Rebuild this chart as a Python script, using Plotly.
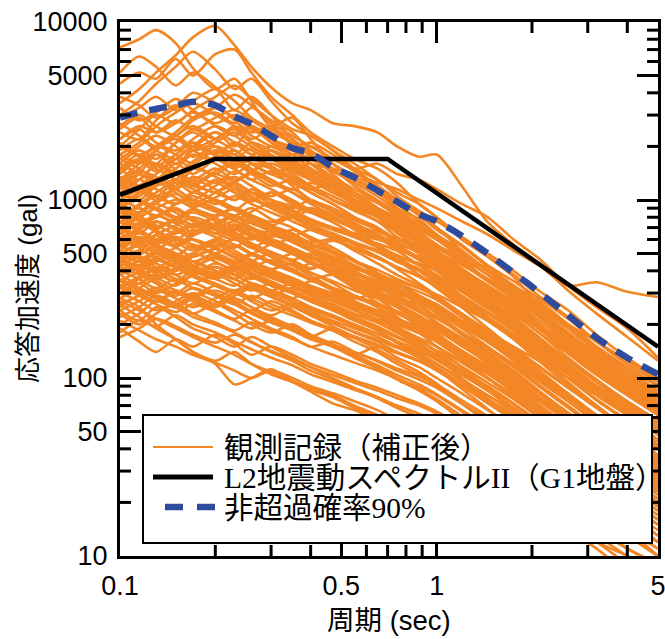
import math
import plotly.graph_objects as go

# ---------------- data ----------------
periods = [0.10, 0.115, 0.13, 0.15, 0.17, 0.20, 0.23, 0.26, 0.30, 0.35, 0.40, 0.47, 0.55,
           0.65, 0.75, 0.88, 1.0, 1.2, 1.45, 1.75, 2.1, 2.6, 3.2, 4.0, 5.0]

records_extreme = [
    [3500, 4200, 5200, 6500, 8200, 9500, 7400, 5600, 4300, 3500, 3200, 2700, 2600, 2400, 2000, 1750, 1800, 1200, 750, 560, 440, 310, 230, 170, 125],
    [7200, 8000, 9000, 7600, 5500, 4200, 4800, 3600, 2600, 2900, 2200, 1600, 1300, 1100, 900, 650, 520, 400, 330, 220, 170, 120, 85, 62, 45],
    [4500, 5200, 4800, 6200, 5000, 6600, 7000, 5200, 3800, 3000, 2400, 2000, 1700, 1500, 1250, 950, 800, 620, 480, 370, 260, 200, 140, 105, 80],
    [5200, 6400, 5600, 4400, 5200, 4300, 3200, 3800, 3000, 2200, 1800, 1400, 1100, 900, 700, 560, 430, 330, 260, 190, 140, 105, 75, 58, 42],
    [3000, 3600, 4500, 5600, 6800, 5400, 4200, 4800, 3600, 2700, 2300, 1900, 1500, 1200, 1000, 820, 700, 520, 400, 300, 230, 160, 125, 90, 70],
    [1500, 1800, 1600, 2100, 2500, 2200, 2600, 2300, 2000, 1900, 1600, 1500, 1400, 1250, 1150, 1000, 900, 760, 640, 520, 430, 330, 345, 305, 285],
    [1200, 1400, 1800, 1500, 2000, 2400, 2000, 2600, 2200, 1800, 2000, 1700, 1500, 1600, 1400, 1300, 1150, 950, 800, 600, 470, 330, 250, 190, 130],
]

records_high = [
    [2900, 3300, 3800, 3200, 3600, 4200, 3600, 2900, 2500, 2100, 1800, 1500, 1200, 1000, 850, 700, 600, 470, 350, 280, 200, 155, 110, 85, 62],
    [2400, 2200, 2800, 3400, 2900, 3300, 3900, 3400, 2700, 2300, 2000, 1700, 1500, 1150, 900, 780, 640, 520, 400, 330, 270, 200, 140, 115, 90],
    [3800, 3400, 2900, 3300, 4000, 3500, 2800, 2400, 2600, 2000, 1600, 1300, 1050, 900, 720, 560, 480, 360, 280, 210, 160, 115, 85, 62, 48],
    [2000, 2500, 3000, 2700, 3200, 3800, 4400, 3700, 3000, 2500, 2300, 1900, 1600, 1300, 1100, 950, 800, 600, 480, 380, 290, 220, 160, 120, 95],
    [2600, 3000, 2600, 2300, 2800, 3100, 2700, 3300, 2800, 2400, 1900, 1600, 1350, 1200, 1000, 820, 680, 550, 420, 330, 260, 195, 150, 115, 90],
    [1800, 2100, 2600, 3100, 3500, 3000, 2600, 2200, 2500, 2200, 1850, 1700, 1450, 1150, 950, 760, 620, 480, 380, 300, 240, 180, 135, 105, 82],
    [3300, 2800, 3100, 3700, 3200, 2700, 3000, 2600, 2100, 1800, 1500, 1250, 1000, 820, 700, 580, 480, 380, 300, 230, 180, 130, 98, 74, 58],
    [1500, 1700, 2000, 2400, 2900, 3300, 2900, 2500, 2200, 2000, 2100, 1800, 1500, 1300, 1050, 870, 760, 620, 500, 400, 310, 240, 175, 130, 100],
    [2200, 2600, 2400, 2800, 2500, 2900, 3200, 2800, 2400, 2100, 1750, 1450, 1300, 1150, 980, 850, 700, 560, 430, 350, 280, 215, 160, 125, 98],
    [2500, 2900, 2400, 2700, 3100, 2600, 2300, 2600, 2200, 1900, 1700, 1450, 1250, 1050, 880, 740, 640, 500, 400, 310, 240, 180, 135, 100, 78],
    [1800, 1600, 1900, 2300, 2000, 2400, 2100, 1800, 2000, 1700, 1450, 1250, 1100, 960, 820, 700, 600, 480, 380, 300, 235, 175, 130, 98, 75],
    [2200, 2500, 2100, 1900, 2200, 2600, 2300, 2000, 1750, 1500, 1600, 1350, 1150, 980, 840, 720, 620, 500, 400, 320, 250, 190, 145, 110, 85],
    [1300, 1600, 1900, 2200, 1900, 2100, 2400, 2100, 1800, 1550, 1350, 1150, 1000, 900, 780, 660, 560, 440, 350, 280, 220, 165, 125, 95, 72],
    [2700, 2300, 2000, 2300, 2600, 2200, 1900, 1700, 1900, 1650, 1400, 1200, 1000, 860, 720, 600, 510, 400, 315, 250, 195, 145, 108, 82, 63],
]

records_upper = [
    [1600, 1900, 1700, 2100, 2400, 2000, 1800, 2100, 1900, 1600, 1400, 1150, 950, 800, 650, 540, 460, 360, 280, 220, 170, 125, 95, 70, 55],
    [1300, 1500, 1800, 1600, 1900, 2200, 2500, 2100, 1800, 1500, 1300, 1200, 1000, 850, 720, 600, 520, 400, 320, 250, 190, 140, 105, 80, 62],
    [2100, 1800, 2000, 2300, 1900, 1700, 1900, 1600, 1400, 1250, 1100, 950, 800, 700, 560, 470, 400, 310, 250, 190, 150, 110, 80, 62, 48],
    [1000, 1200, 1400, 1700, 2000, 1800, 2100, 1900, 1700, 1800, 1500, 1300, 1100, 900, 760, 640, 560, 470, 380, 300, 250, 170, 140, 110, 80],
    [1700, 1500, 1300, 1500, 1800, 1600, 1400, 1600, 1500, 1300, 1200, 1000, 880, 760, 620, 520, 440, 350, 270, 210, 160, 120, 90, 68, 52],
    [1200, 1400, 1300, 1600, 1400, 1700, 1900, 1600, 1400, 1500, 1300, 1100, 1000, 880, 760, 650, 560, 450, 420, 320, 240, 200, 150, 110, 92],
    [900, 1100, 1300, 1200, 1500, 1700, 1500, 1700, 1500, 1300, 1150, 1250, 1050, 900, 800, 680, 600, 500, 400, 320, 250, 190, 140, 105, 82],
    [1400, 1700, 2000, 1800, 1600, 1900, 1700, 1500, 1300, 1100, 950, 820, 680, 560, 460, 380, 320, 250, 190, 145, 110, 80, 60, 45, 35],
    [1900, 2200, 1900, 1700, 2000, 1800, 1500, 1300, 1450, 1200, 1000, 850, 720, 620, 520, 430, 370, 290, 220, 170, 130, 95, 70, 52, 40],
    [1100, 1000, 1200, 1400, 1300, 1500, 1300, 1450, 1600, 1400, 1200, 1000, 900, 800, 680, 580, 500, 400, 320, 260, 200, 150, 115, 88, 68],
    [800, 950, 1100, 1300, 1500, 1400, 1600, 1400, 1200, 1300, 1100, 950, 800, 680, 580, 500, 420, 340, 270, 210, 165, 125, 95, 72, 56],
    [1500, 1300, 1600, 1400, 1200, 1400, 1250, 1100, 1000, 900, 1000, 860, 740, 640, 560, 470, 400, 330, 260, 200, 155, 115, 88, 66, 50],
    [1250, 1450, 1350, 1150, 1350, 1250, 1450, 1300, 1150, 1000, 880, 780, 700, 620, 540, 480, 420, 360, 300, 240, 190, 145, 110, 85, 66],
    [1000, 1150, 1050, 1250, 1100, 1300, 1150, 1000, 1100, 950, 850, 750, 640, 560, 480, 400, 340, 270, 210, 165, 125, 92, 70, 52, 40],
    [1600, 1400, 1250, 1400, 1550, 1350, 1200, 1050, 900, 800, 700, 640, 560, 480, 410, 340, 290, 230, 180, 140, 110, 80, 60, 46, 36],
    [700, 850, 1000, 1150, 1000, 1200, 1350, 1200, 1050, 1150, 1000, 900, 780, 700, 600, 540, 470, 380, 310, 250, 200, 150, 115, 88, 68],
    [1300, 1150, 1000, 1150, 1300, 1150, 1000, 1150, 1000, 880, 780, 700, 620, 540, 460, 400, 350, 280, 220, 175, 135, 100, 75, 57, 44],
    [950, 1100, 1250, 1100, 950, 1100, 1250, 1100, 950, 850, 900, 800, 700, 620, 540, 460, 400, 320, 260, 200, 155, 115, 86, 65, 50],
    [1100, 1300, 1550, 1400, 1650, 1900, 1700, 1950, 1700, 1450, 1300, 1150, 1000, 860, 740, 640, 560, 450, 360, 290, 230, 175, 135, 102, 80],
    [1700, 2000, 2300, 2000, 1750, 2000, 1800, 1600, 1400, 1550, 1350, 1150, 980, 840, 720, 610, 520, 410, 325, 255, 200, 150, 112, 85, 65],
    [2000, 1750, 1550, 1800, 2100, 1850, 2050, 1800, 1550, 1350, 1200, 1050, 920, 800, 690, 590, 510, 410, 330, 265, 210, 160, 122, 93, 72],
    [1450, 1650, 1450, 1700, 1500, 1750, 1550, 1750, 1500, 1300, 1150, 1000, 870, 760, 660, 570, 490, 390, 310, 245, 190, 145, 110, 84, 64],
    [900, 1050, 1200, 1400, 1250, 1450, 1650, 1450, 1300, 1150, 1250, 1100, 950, 830, 720, 620, 540, 440, 350, 280, 225, 172, 132, 100, 78],
    [1250, 1100, 1250, 1450, 1250, 1100, 1250, 1400, 1250, 1100, 980, 870, 770, 680, 600, 520, 450, 360, 290, 230, 180, 137, 104, 80, 62],
    [1050, 1200, 1050, 950, 1100, 1250, 1100, 980, 1100, 980, 870, 780, 690, 610, 540, 470, 410, 330, 265, 210, 165, 125, 95, 72, 56],
    [1350, 1200, 1050, 950, 1050, 950, 1050, 950, 850, 760, 680, 610, 540, 480, 420, 370, 325, 260, 210, 168, 132, 100, 76, 58, 45],
    [1200, 1100, 1200, 1300, 1200, 1100, 1000, 1100, 1000, 920, 850, 780, 720, 660, 610, 560, 510, 430, 360, 300, 250, 200, 160, 125, 98],
    [1500, 1700, 1500, 1300, 1150, 1000, 880, 770, 680, 600, 520, 440, 370, 310, 260, 215, 180, 140, 108, 82, 62, 46, 34, 25, 19],
]

records_middle = [
    [800, 900, 800, 950, 1000, 900, 820, 900, 780, 700, 620, 540, 460, 380, 320, 270, 230, 180, 140, 110, 85, 63, 48, 37, 29],
    [600, 700, 820, 750, 900, 1000, 880, 800, 700, 620, 560, 500, 430, 370, 310, 260, 220, 175, 138, 108, 84, 63, 48, 37, 29],
    [900, 800, 700, 780, 850, 760, 680, 750, 660, 580, 520, 460, 400, 340, 290, 240, 200, 155, 120, 92, 70, 52, 39, 30, 23],
    [500, 580, 680, 760, 700, 800, 900, 820, 720, 650, 580, 600, 520, 440, 380, 330, 280, 220, 175, 140, 110, 82, 62, 48, 37],
    [700, 650, 750, 700, 640, 720, 800, 700, 620, 680, 600, 520, 450, 390, 340, 290, 250, 200, 160, 125, 98, 74, 56, 43, 33],
    [1000, 900, 820, 900, 780, 700, 760, 680, 600, 530, 470, 420, 360, 300, 250, 210, 175, 138, 108, 83, 64, 48, 36, 27, 21],
    [550, 620, 580, 660, 720, 650, 600, 680, 640, 580, 520, 470, 420, 380, 330, 290, 260, 210, 170, 135, 105, 80, 60, 46, 36],
    [750, 850, 950, 850, 760, 680, 620, 700, 600, 520, 450, 390, 330, 280, 235, 195, 165, 130, 100, 78, 60, 45, 34, 26, 20],
    [450, 520, 600, 560, 640, 720, 660, 600, 680, 600, 540, 480, 420, 360, 310, 270, 235, 190, 150, 118, 92, 70, 53, 41, 32],
    [850, 760, 680, 600, 680, 620, 560, 500, 560, 500, 440, 390, 340, 300, 260, 225, 195, 160, 128, 100, 78, 58, 44, 34, 26],
    [620, 560, 640, 720, 800, 720, 640, 570, 510, 460, 500, 440, 390, 330, 280, 240, 205, 165, 130, 100, 78, 58, 44, 33, 26],
    [400, 460, 520, 600, 540, 600, 540, 620, 560, 500, 450, 400, 360, 320, 290, 250, 220, 180, 145, 115, 90, 68, 52, 40, 31],
    [680, 740, 660, 580, 520, 580, 520, 460, 410, 440, 390, 340, 290, 250, 215, 185, 160, 128, 100, 78, 60, 45, 34, 26, 20],
    [520, 600, 540, 480, 560, 500, 560, 500, 450, 400, 360, 380, 330, 290, 250, 215, 190, 155, 125, 98, 76, 57, 43, 33, 26],
    [350, 400, 460, 420, 480, 540, 600, 540, 480, 430, 390, 350, 310, 280, 250, 220, 195, 160, 130, 105, 84, 64, 50, 39, 31],
    [760, 680, 600, 540, 480, 530, 470, 420, 460, 410, 360, 310, 270, 230, 195, 165, 140, 110, 86, 66, 50, 37, 28, 21, 16],
    [480, 430, 500, 460, 420, 480, 440, 500, 450, 400, 360, 320, 290, 260, 230, 200, 175, 142, 115, 90, 70, 53, 40, 31, 24],
    [600, 540, 480, 540, 600, 540, 480, 430, 390, 350, 310, 280, 240, 210, 180, 155, 135, 108, 85, 66, 51, 38, 29, 22, 17],
    [420, 480, 440, 400, 450, 400, 360, 410, 370, 330, 300, 270, 240, 215, 190, 168, 150, 124, 100, 80, 63, 48, 37, 29, 22],
    [900, 1000, 900, 800, 720, 650, 700, 620, 560, 500, 440, 390, 340, 300, 270, 240, 215, 180, 148, 120, 96, 74, 57, 44, 34],
    [560, 500, 560, 620, 560, 500, 450, 500, 450, 400, 440, 400, 350, 310, 270, 235, 205, 168, 135, 106, 82, 62, 47, 36, 28],
    [380, 430, 390, 440, 400, 360, 400, 440, 400, 360, 320, 290, 260, 230, 205, 180, 160, 130, 105, 84, 66, 50, 38, 30, 23],
    [450, 400, 360, 400, 450, 400, 360, 320, 290, 320, 290, 260, 230, 205, 180, 160, 142, 116, 94, 76, 60, 46, 35, 27, 21],
    [320, 360, 410, 460, 410, 370, 410, 370, 330, 300, 270, 245, 220, 195, 172, 152, 135, 110, 90, 72, 57, 44, 34, 26, 20],
    [520, 470, 420, 380, 420, 470, 420, 380, 340, 305, 275, 250, 220, 240, 210, 185, 165, 135, 108, 86, 68, 52, 40, 31, 24],
    [650, 580, 520, 470, 420, 380, 420, 380, 340, 300, 270, 240, 215, 190, 168, 148, 132, 108, 88, 71, 56, 43, 33, 26, 20],
    [470, 520, 470, 420, 380, 340, 310, 340, 310, 280, 250, 225, 200, 178, 160, 142, 126, 104, 85, 68, 54, 41, 32, 25, 19],
    [800, 920, 1050, 950, 1100, 980, 880, 1000, 900, 800, 880, 780, 690, 610, 540, 470, 410, 330, 265, 210, 166, 126, 96, 74, 57],
    [1150, 1300, 1150, 1030, 920, 1030, 1150, 1030, 920, 820, 730, 650, 580, 520, 460, 410, 360, 290, 235, 188, 148, 112, 86, 66, 51],
    [950, 850, 960, 1080, 960, 860, 770, 860, 960, 860, 770, 690, 620, 550, 490, 430, 380, 305, 245, 196, 154, 117, 89, 68, 53],
    [700, 790, 900, 800, 900, 1000, 900, 800, 720, 800, 720, 640, 570, 510, 450, 400, 355, 285, 230, 183, 144, 109, 83, 64, 49],
    [1100, 980, 880, 790, 880, 790, 710, 790, 710, 640, 570, 510, 455, 405, 360, 320, 285, 230, 185, 148, 117, 89, 68, 52, 40],
    [650, 730, 820, 740, 660, 740, 820, 740, 670, 600, 540, 590, 530, 470, 420, 375, 335, 270, 218, 175, 138, 105, 80, 62, 48],
    [880, 790, 710, 790, 880, 790, 710, 640, 580, 520, 470, 420, 380, 340, 305, 275, 245, 198, 160, 128, 101, 77, 59, 45, 35],
    [580, 650, 580, 650, 730, 650, 730, 650, 590, 530, 480, 430, 390, 350, 315, 285, 255, 206, 166, 133, 105, 80, 61, 47, 36],
    [750, 670, 600, 670, 600, 540, 600, 540, 600, 540, 485, 435, 390, 350, 315, 282, 252, 203, 164, 131, 103, 79, 60, 46, 36],
    [500, 560, 630, 560, 630, 700, 630, 570, 510, 460, 415, 460, 415, 375, 340, 305, 275, 222, 180, 145, 115, 88, 68, 52, 41],
    [680, 610, 550, 490, 550, 490, 440, 490, 440, 395, 355, 320, 290, 262, 237, 214, 193, 157, 128, 103, 82, 63, 48, 37, 29],
    [430, 490, 550, 500, 450, 500, 560, 500, 450, 500, 450, 405, 365, 330, 298, 268, 241, 196, 159, 128, 101, 78, 60, 46, 36],
    [620, 560, 500, 450, 500, 560, 500, 450, 405, 365, 330, 298, 268, 240, 215, 192, 172, 139, 112, 90, 71, 54, 41, 32, 25],
    [700, 800, 720, 650, 720, 800, 900, 820, 750, 820, 750, 700, 650, 600, 560, 520, 480, 400, 330, 270, 220, 170, 130, 100, 80],
    [500, 450, 520, 600, 540, 600, 680, 620, 560, 620, 680, 620, 570, 520, 480, 440, 400, 340, 285, 235, 190, 150, 118, 92, 72],
    [900, 820, 900, 1000, 900, 820, 900, 820, 750, 820, 750, 680, 620, 570, 520, 480, 440, 370, 300, 245, 200, 155, 120, 92, 72],
    [1000, 1150, 1300, 1150, 1000, 880, 770, 680, 600, 520, 450, 380, 320, 265, 220, 180, 150, 115, 88, 66, 50, 37, 27, 20, 15],
    [800, 720, 800, 880, 780, 700, 620, 550, 490, 430, 375, 320, 270, 225, 188, 156, 130, 100, 77, 58, 44, 32, 24, 18, 13],
    [600, 680, 760, 680, 600, 540, 480, 430, 380, 335, 295, 255, 218, 185, 157, 133, 113, 87, 67, 51, 39, 29, 21, 16, 12],
    [560, 620, 560, 500, 450, 500, 450, 405, 365, 330, 300, 272, 247, 224, 204, 186, 170, 140, 116, 95, 77, 60, 47, 37, 29],
]

records_low = [
    [300, 340, 380, 350, 400, 360, 330, 370, 330, 300, 270, 240, 210, 185, 160, 138, 120, 96, 76, 60, 47, 36, 27, 21, 16],
    [250, 290, 270, 310, 290, 330, 300, 280, 310, 280, 250, 220, 195, 170, 150, 130, 115, 92, 74, 58, 45, 34, 26, 20, 15],
    [420, 380, 340, 300, 340, 300, 270, 240, 270, 240, 210, 185, 160, 140, 120, 104, 90, 72, 57, 45, 35, 26, 20, 15, 12],
    [200, 230, 270, 250, 280, 260, 300, 270, 240, 260, 230, 205, 180, 160, 140, 125, 110, 90, 72, 58, 46, 35, 27, 21, 16],
    [330, 300, 270, 300, 270, 240, 215, 240, 215, 190, 170, 150, 132, 116, 100, 87, 76, 61, 49, 39, 30, 23, 18, 14, 11],
    [190, 160, 140, 165, 150, 175, 155, 135, 150, 135, 120, 108, 97, 88, 80, 72, 65, 54, 45, 37, 30, 23, 18, 14, 11],
    [260, 220, 190, 165, 140, 125, 140, 120, 105, 95, 84, 72, 66, 58, 52, 47, 42, 35, 29, 24, 19, 15, 12, 10, 8],
    [280, 250, 200, 165, 140, 120, 92, 100, 112, 96, 88, 80, 70, 62, 55, 49, 44, 36, 30, 24, 19, 15, 12, 9, 7],
    [240, 210, 250, 220, 190, 170, 150, 170, 150, 130, 115, 100, 88, 78, 68, 60, 53, 44, 36, 29, 23, 18, 14, 11, 9],
    [350, 310, 280, 250, 220, 200, 180, 160, 140, 125, 110, 98, 87, 77, 68, 60, 54, 45, 37, 30, 24, 18, 14, 11, 9],
    [220, 250, 290, 260, 230, 260, 230, 200, 180, 200, 175, 155, 135, 118, 104, 92, 81, 66, 54, 43, 34, 26, 20, 15, 12],
    [300, 270, 240, 270, 300, 270, 240, 215, 190, 170, 150, 160, 140, 124, 110, 98, 88, 72, 59, 47, 37, 28, 22, 17, 13],
    [180, 210, 195, 225, 200, 180, 160, 145, 130, 118, 105, 95, 86, 78, 70, 63, 57, 48, 40, 33, 27, 21, 17, 13, 10],
    [270, 240, 215, 190, 170, 150, 135, 120, 108, 96, 86, 78, 68, 60, 53, 47, 42, 34, 28, 22, 18, 14, 11, 8, 6],
    [210, 185, 165, 150, 135, 122, 110, 100, 110, 100, 90, 82, 74, 66, 58, 52, 47, 39, 32, 26, 21, 16, 13, 10, 8],
    [400, 360, 320, 360, 320, 290, 260, 230, 205, 185, 165, 150, 135, 150, 130, 115, 100, 82, 66, 53, 42, 32, 25, 19, 15],
    [360, 320, 290, 260, 290, 260, 290, 320, 290, 260, 235, 210, 190, 170, 150, 134, 120, 98, 80, 64, 51, 39, 30, 23, 18],
    [280, 320, 360, 330, 380, 420, 380, 340, 310, 280, 310, 280, 250, 225, 200, 178, 160, 132, 108, 88, 70, 54, 42, 33, 26],
    [240, 270, 310, 280, 250, 280, 310, 280, 250, 225, 205, 185, 168, 152, 138, 125, 112, 92, 76, 62, 50, 39, 30, 24, 19],
    [380, 340, 390, 440, 390, 440, 400, 360, 400, 360, 325, 293, 264, 238, 215, 194, 175, 142, 115, 93, 74, 57, 44, 34, 26],
    [540, 600, 540, 480, 430, 390, 430, 390, 350, 315, 350, 315, 283, 255, 230, 207, 186, 151, 122, 98, 78, 60, 46, 35, 27],
    [330, 370, 420, 380, 340, 380, 340, 310, 340, 310, 280, 252, 227, 205, 185, 166, 150, 122, 99, 80, 63, 49, 38, 29, 23],
    [460, 410, 370, 410, 370, 330, 300, 330, 300, 270, 243, 219, 197, 177, 160, 144, 130, 105, 85, 68, 54, 41, 32, 25, 19],
    [400, 450, 400, 450, 500, 450, 400, 450, 500, 450, 410, 450, 410, 380, 350, 320, 295, 250, 210, 175, 145, 115, 90, 70, 55],
    [300, 340, 300, 340, 380, 420, 380, 420, 380, 350, 320, 300, 280, 300, 280, 260, 240, 210, 180, 150, 125, 100, 80, 64, 50],
    [450, 400, 450, 500, 450, 400, 360, 320, 285, 253, 225, 195, 168, 145, 125, 108, 93, 72, 56, 43, 33, 25, 18, 14, 10],
    [350, 390, 350, 310, 280, 250, 280, 250, 220, 195, 172, 150, 130, 113, 98, 85, 74, 58, 45, 35, 27, 20, 15, 11, 9],
    [280, 310, 280, 250, 280, 310, 280, 250, 225, 250, 225, 202, 182, 164, 148, 133, 120, 98, 80, 65, 52, 40, 31, 24, 19],
    [230, 200, 230, 260, 230, 205, 185, 205, 185, 166, 150, 135, 122, 110, 99, 89, 80, 65, 53, 43, 34, 26, 20, 16, 12],
    [320, 290, 260, 235, 260, 235, 210, 190, 210, 190, 171, 154, 139, 125, 113, 102, 92, 75, 61, 49, 39, 30, 23, 18, 14],
    [260, 290, 320, 290, 320, 290, 260, 235, 212, 190, 171, 190, 171, 154, 139, 125, 113, 92, 75, 61, 49, 38, 29, 23, 18],
    [500, 450, 400, 360, 320, 290, 260, 290, 260, 234, 210, 189, 170, 153, 138, 124, 112, 91, 74, 60, 48, 37, 28, 22, 17],
    [170, 190, 215, 195, 175, 158, 175, 158, 142, 128, 115, 104, 94, 85, 77, 70, 63, 52, 43, 35, 28, 22, 17, 13, 10],
    [380, 420, 470, 420, 380, 420, 380, 340, 310, 340, 310, 280, 254, 230, 209, 190, 173, 142, 117, 96, 78, 61, 48, 38, 30],
]

l2_periods = [0.1, 0.2, 0.7, 5.0]
l2_values = [1070, 1700, 1700, 150]

p90_periods = [0.10, 0.115, 0.13, 0.15, 0.17, 0.20, 0.23, 0.26, 0.30, 0.35, 0.40, 0.47, 0.55,
               0.65, 0.75, 0.88, 1.0, 1.2, 1.45, 1.75, 2.1, 2.6, 3.2, 4.0, 5.0]
p90_values = [2900, 3100, 3250, 3400, 3560, 3400, 2950, 2680, 2300, 1960, 1830, 1530, 1340,
              1130, 980, 830, 760, 630, 500, 390, 305, 225, 168, 130, 105]

x_tickvals = [0.1, 0.5, 1, 5]
x_ticktext = ["0.1", "0.5", "1", "5"]
x_minor = [0.2, 0.3, 0.4, 0.6, 0.7, 0.8, 0.9, 2, 3, 4]
y_tickvals = [10, 50, 100, 500, 1000, 5000, 10000]
y_ticktext = ["10", "50", "100", "500", "1000", "5000", "10000"]
y_minor = [20, 30, 40, 60, 70, 80, 90, 200, 300, 400, 600, 700, 800, 900,
           2000, 3000, 4000, 6000, 7000, 8000, 9000]

legend_labels = ["観測記録（補正後）", "L2地震動スペクトルII（G1地盤）", "非超過確率90%"]

ORANGE = "#F38625"
BLUE = "#2E4C9E"
X_RANGE = [-1, 0.699]
Y_RANGE = [1, 4]

# ---------------- figure ----------------
fig = go.Figure()

for group in (records_extreme, records_high, records_upper, records_middle, records_low):
    for rec in group:
        fig.add_trace(go.Scatter(
            x=periods, y=rec, mode="lines",
            line=dict(color=ORANGE, width=2.6, shape="spline", smoothing=0.8),
            showlegend=False, hoverinfo="skip"))

fig.add_trace(go.Scatter(
    x=l2_periods, y=l2_values, mode="lines",
    line=dict(color="black", width=4.5), showlegend=False))

fig.add_trace(go.Scatter(
    x=p90_periods, y=p90_values, mode="lines",
    line=dict(color=BLUE, width=6.5, dash="18px,12px", shape="spline", smoothing=0.8),
    showlegend=False))

tick_font = dict(family="Liberation Sans, Arial, sans-serif", size=27, color="black")
axis_common = dict(
    type="log", showgrid=False, zeroline=False,
    showline=True, linecolor="black", linewidth=3, mirror="ticks",
    ticks="inside", ticklen=21, tickwidth=3, tickcolor="black", tickfont=tick_font,
    ticklabelstandoff=4, ticklabeloverflow="allow",
)

fig.update_layout(
    xaxis=dict(range=X_RANGE, tickmode="array", tickvals=x_tickvals, ticktext=x_ticktext,
               **axis_common),
    yaxis=dict(range=Y_RANGE, tickmode="array", tickvals=y_tickvals, ticktext=y_ticktext,
               **axis_common),
)

# plot area: x 120..658 px, y 22..556 px
W, H = 538.0, 534.0
def px(xp):
    return (xp - 120) / W
def py(yp):
    return (556 - yp) / H

MINOR_LEN = 11
shapes = []
# minor ticks (axis decoration), placed from the tick values on both mirrored sides
for v in x_minor:
    fx = (math.log10(v) - X_RANGE[0]) / (X_RANGE[1] - X_RANGE[0])
    for y0, y1 in ((0, MINOR_LEN / H), (1, 1 - MINOR_LEN / H)):
        shapes.append(dict(type="line", xref="paper", yref="paper", x0=fx, x1=fx,
                           y0=y0, y1=y1, line=dict(color="black", width=3), layer="above"))
for v in y_minor:
    fy = (math.log10(v) - Y_RANGE[0]) / (Y_RANGE[1] - Y_RANGE[0])
    for x0, x1 in ((0, MINOR_LEN / W), (1, 1 - MINOR_LEN / W)):
        shapes.append(dict(type="line", xref="paper", yref="paper", x0=x0, x1=x1,
                           y0=fy, y1=fy, line=dict(color="black", width=3), layer="above"))

shapes += [
    dict(type="rect", xref="paper", yref="paper",
         x0=px(143), x1=px(652), y0=py(543), y1=py(415),
         line=dict(color="black", width=2), fillcolor="white", layer="above"),
    dict(type="line", xref="paper", yref="paper",
         x0=px(153), x1=px(213), y0=py(447), y1=py(447),
         line=dict(color=ORANGE, width=2)),
    dict(type="line", xref="paper", yref="paper",
         x0=px(153), x1=px(213), y0=py(477), y1=py(477),
         line=dict(color="black", width=5)),
    dict(type="line", xref="paper", yref="paper",
         x0=px(165), x1=px(215), y0=py(507), y1=py(507),
         line=dict(color=BLUE, width=6.5, dash="18px,14px")),
]

legend_font = dict(family="Liberation Serif, Noto Sans CJK JP, serif", size=29.5, color="black")
annotations = []
for lbl, yp in zip(legend_labels, [448, 478, 508]):
    annotations.append(dict(xref="paper", yref="paper", x=px(222), y=py(yp),
                            xanchor="left", yanchor="middle", text=lbl,
                            showarrow=False, font=legend_font))

annotations.append(dict(xref="paper", yref="paper", x=px(389), y=py(620),
                        xanchor="center", yanchor="middle", text="周期 (sec)", showarrow=False,
                        font=dict(family="Liberation Sans, Noto Sans CJK JP, sans-serif",
                                  size=27.5, color="black")))
annotations.append(dict(xref="paper", yref="paper", x=px(28), y=py(289),
                        xanchor="center", yanchor="middle", text="応答加速度 (gal)",
                        textangle=-90, showarrow=False,
                        font=dict(family="Liberation Sans, Noto Sans CJK JP, sans-serif",
                                  size=26, color="black")))

fig.update_layout(
    width=665, height=639,
    margin=dict(l=120, r=7, t=22, b=83, autoexpand=False),
    plot_bgcolor="white", paper_bgcolor="white",
    shapes=shapes, annotations=annotations, showlegend=False,
)

fig.write_html("out.html")
